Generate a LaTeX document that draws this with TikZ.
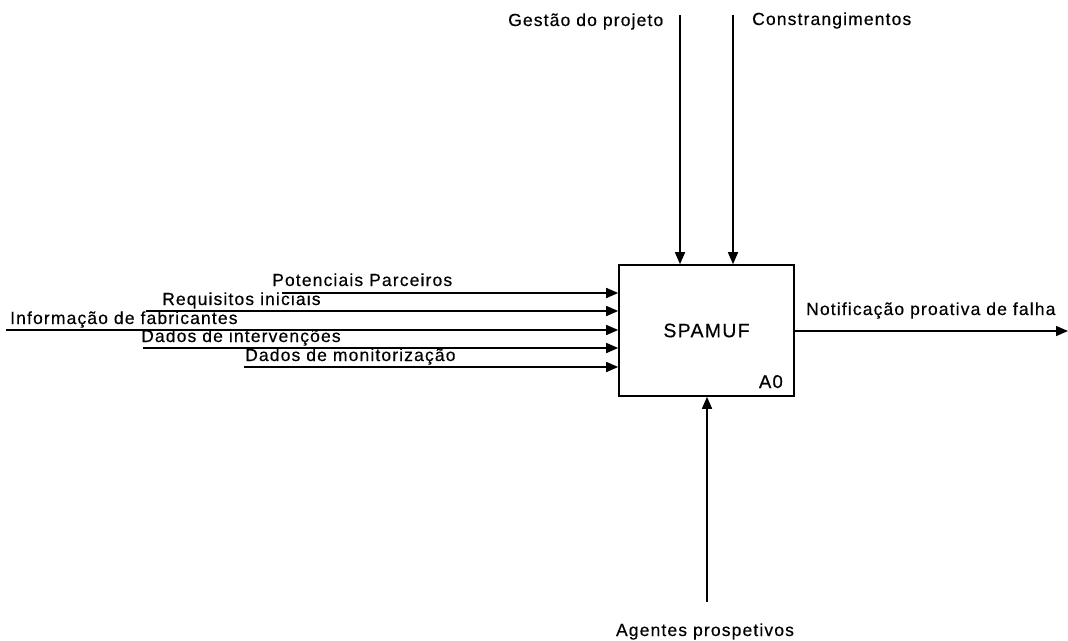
\documentclass[tikz,border=0pt]{standalone}
\usepackage{fontspec}
\setmainfont{Liberation Sans}[LetterSpace=6.5,FakeBold=0.4]
\usetikzlibrary{arrows.meta}
\begin{document}
\begin{tikzpicture}[x=1pt,y=-1pt,
  flow/.style={line width=1.5pt,-{Triangle[length=12pt,width=10pt]}},
  lbl/.style={inner sep=0pt,anchor=base west,font=\fontsize{17.5}{20}\selectfont},
  activity/.style={draw,line width=1.6pt,minimum width=175pt,minimum height=131pt,
    inner sep=0pt,font=\fontsize{19.5}{22}\selectfont}]
\useasboundingbox (0,0) rectangle (1068,640);

% the activity box
\node[activity] (A0) at (706.5,330.5) {SPAMUF};
\node[inner sep=0pt,anchor=base east,font=\fontsize{18.5}{20}\selectfont] (num) at (783,388) {A0};

% inputs (left side)
\coordinate (in1) at (282,293);
\coordinate (in2) at (146,311);
\coordinate (in3) at (6,330);
\coordinate (in4) at (143,348);
\coordinate (in5) at (244,367);
\foreach \c in {in1,in2,in3,in4,in5}
  \draw[flow] (\c) -- (\c -| A0.west);
\node[lbl] (l1) at (272,286) {Potenciais Parceiros};
\node[lbl] (l2) at (162,305) {Requisitos iniciais};
\node[lbl] (l3) at (10,324) {Informação de fabricantes};
\node[lbl] (l4) at (141,342) {Dados de intervenções};
\node[lbl] (l5) at (245,361) {Dados de monitorização};

% controls (top)
\coordinate (c1) at (680,15);
\coordinate (c2) at (733,15);
\draw[flow] (c1) -- (c1 |- A0.north);
\draw[flow] (c2) -- (c2 |- A0.north);
\node[lbl] (lc1) at (508,26) {Gestão do projeto};
\node[lbl] (lc2) at (752,25) {Constrangimentos};

% output (right side)
\coordinate (o1) at (1068,331);
\draw[flow] (A0.east |- o1) -- (o1);
\node[lbl] (lo1) at (806,315) {Notificação proativa de falha};

% mechanism (bottom)
\coordinate (m1) at (707,602);
\draw[flow] (m1) -- (m1 |- A0.south);
\node[lbl,anchor=base] (lm1) at (705,636) {Agentes prospetivos};
\end{tikzpicture}
\end{document}
